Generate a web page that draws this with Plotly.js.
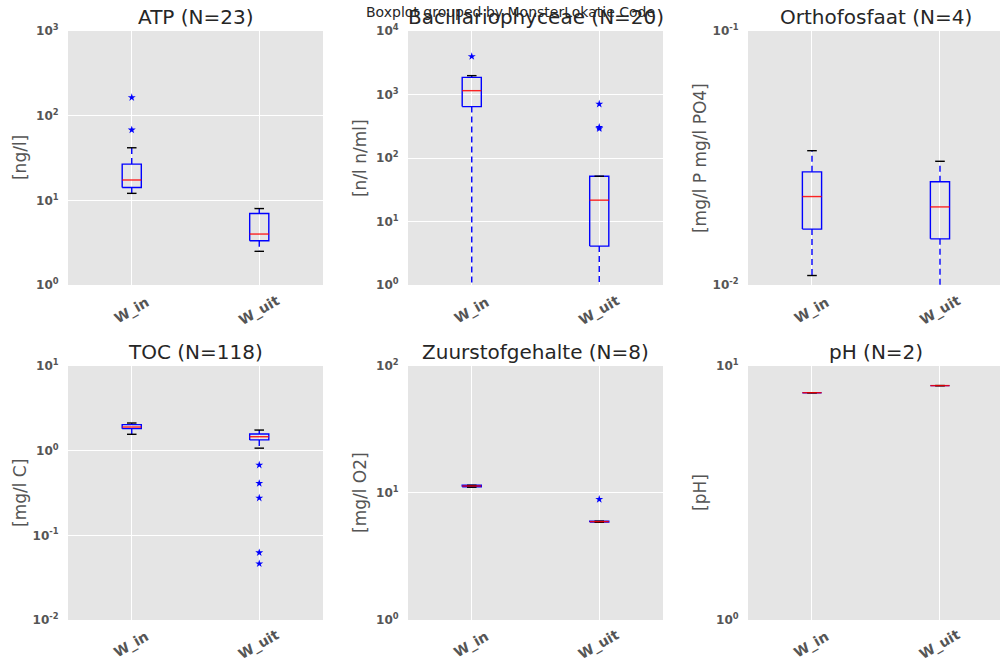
<!DOCTYPE html>
<html>
<head>
<meta charset="utf-8">
<script src="https://cdn.plot.ly/plotly-3.0.1.min.js"></script>
<style>html,body{margin:0;padding:0;background:#fff;} #chart{width:1000px;height:663px;}</style>
</head>
<body>
<div id="chart"></div>
<script>
// ---------- data ----------
const suptitle = 'Boxplot grouped by MonsterLokatie Code';
const panelTitles = ['ATP (N=23)', 'Bacillariophyceae (N=20)', 'Orthofosfaat (N=4)',
                     'TOC (N=118)', 'Zuurstofgehalte (N=8)', 'pH (N=2)'];
const unitLabels = ['[ng/l]', '[n/l n/ml]', '[mg/l P mg/l PO4]', '[mg/l C]', '[mg/l O2]', '[pH]'];
const categories = ['W_in', 'W_uit'];
// per panel: [W_in, W_uit]
const whiskerLow  = [[12.1, 2.5], [0.1, 0.5], [0.0109, 0.0095], [1.56, 1.07], [11.1, 5.88], [7.85, 8.37]];
const q1          = [[14.2, 3.33], [645, 4.1], [0.0166, 0.0152], [1.82, 1.34], [11.2, 5.9], [7.85, 8.37]];
const medians     = [[17.4, 4.0], [1150, 21.7], [0.0223, 0.0203], [1.90, 1.46], [11.35, 5.95], [7.85, 8.37]];
const q3          = [[26.8, 7.0], [1862, 51.7], [0.0279, 0.0255], [2.03, 1.57], [11.5, 6.0], [7.85, 8.37]];
const whiskerHigh = [[41.8, 8.0], [1983, 51.7], [0.0338, 0.0307], [2.12, 1.75], [11.5, 6.0], [7.85, 8.37]];
const outliers    = [[[164, 68], []], [[3980], [708, 305, 290]], [[], []],
                     [[], [0.677, 0.411, 0.276, 0.0624, 0.0462]], [[], [8.92]], [[], []]];
const decadeRange = [[0, 3], [0, 4], [-2, -1], [-2, 1], [0, 2], [0, 1]];

// ---------- layout geometry ----------
const colDomains = [[0.068, 0.323], [0.408, 0.663], [0.748, 1.0]];
const rowDomains = [[0.5701, 0.9532], [0.0649, 0.4480]];
const xRanges = [[0.5, 2.5], [0.5, 2.5], [0.5, 2.469]];
const boxHalf = 0.075, capHalf = 0.0375;

const traces = [];
const layout = {
  width: 1000, height: 663,
  margin: {l: 0, r: 0, t: 0, b: 0},
  paper_bgcolor: '#ffffff',
  plot_bgcolor: '#E5E5E5',
  showlegend: false,
  font: {family: 'DejaVu Sans', color: '#555555'},
  annotations: [{
    text: suptitle, xref: 'paper', yref: 'paper', x: 0.51, y: 1 - 12/663,
    xanchor: 'center', yanchor: 'middle', showarrow: false,
    font: {family: 'DejaVu Sans', size: 14, color: '#262626'}
  }]
};

function sup(n) { return '10<sup>' + n + '</sup>'; }

for (let p = 0; p < 6; p++) {
  const row = Math.floor(p / 3), col = p % 3;
  const sfx = p === 0 ? '' : String(p + 1);
  const xa = 'x' + sfx, ya = 'y' + sfx;
  const [d0, d1] = decadeRange[p];
  const tv = [], tt = [];
  for (let d = d0; d <= d1; d++) { tv.push(Math.pow(10, d)); tt.push(sup(d)); }

  layout['xaxis' + sfx] = {
    domain: colDomains[col], anchor: ya, range: xRanges[col],
    tickvals: [1, 2], ticktext: categories, showticklabels: false,
    showgrid: true, gridcolor: '#ffffff', gridwidth: 1, zeroline: false, showline: false,
    ticks: '', fixedrange: true
  };
  layout['yaxis' + sfx] = {
    domain: rowDomains[row], anchor: xa, type: 'log', range: [d0, d1],
    tickvals: tv, ticktext: tt,
    showgrid: true, gridcolor: '#ffffff', gridwidth: 1, zeroline: false, showline: false,
    ticks: 'outside', ticklen: 6, tickcolor: 'rgba(0,0,0,0)',
    tickfont: {family: 'DejaVu Sans', size: 12, color: '#555555', weight: 'bold'},
    fixedrange: true
  };

  const dx = colDomains[col], dy = rowDomains[row];
  layout.annotations.push({
    text: panelTitles[p], xref: 'paper', yref: 'paper',
    x: dx[0] + 0.1275, y: dy[1] + 14/663,
    xanchor: 'center', yanchor: 'middle', showarrow: false,
    font: {family: 'DejaVu Sans', size: 20, color: '#262626'}
  });
  layout.annotations.push({
    text: unitLabels[p], xref: 'paper', yref: 'paper',
    x: dx[0] - 48/1000, y: (dy[0] + dy[1]) / 2, textangle: -90,
    xanchor: 'center', yanchor: 'middle', showarrow: false,
    font: {family: 'DejaVu Sans', size: 17, color: '#555555'}
  });
  categories.forEach((cat, c) => {
    layout.annotations.push({
      text: cat, xref: xa, yref: 'paper', x: c + 1, y: dy[0] - 25/663,
      textangle: -30, xanchor: 'center', yanchor: 'middle', showarrow: false,
      font: {family: 'DejaVu Sans', size: 14, color: '#555555', weight: 'bold'}
    });
  });

  const bx = [], by = [], mx = [], my = [], wx = [], wy = [], cx = [], cy = [], ox = [], oy = [];
  for (let c = 0; c < 2; c++) {
    const pos = c + 1;
    bx.push(pos - boxHalf, pos + boxHalf, pos + boxHalf, pos - boxHalf, pos - boxHalf, null);
    by.push(q1[p][c], q1[p][c], q3[p][c], q3[p][c], q1[p][c], null);
    mx.push(pos - boxHalf, pos + boxHalf, null);
    my.push(medians[p][c], medians[p][c], null);
    wx.push(pos, pos, null, pos, pos, null);
    wy.push(q1[p][c], whiskerLow[p][c], null, q3[p][c], whiskerHigh[p][c], null);
    cx.push(pos - capHalf, pos + capHalf, null, pos - capHalf, pos + capHalf, null);
    cy.push(whiskerLow[p][c], whiskerLow[p][c], null, whiskerHigh[p][c], whiskerHigh[p][c], null);
    outliers[p][c].forEach(v => { ox.push(pos); oy.push(v); });
  }
  const common = {xaxis: xa, yaxis: ya, hoverinfo: 'skip', cliponaxis: true};
  traces.push(Object.assign({type: 'scatter', mode: 'lines', x: wx, y: wy,
    line: {color: '#0000FF', width: 1.4, dash: '6px,4px'}}, common));
  traces.push(Object.assign({type: 'scatter', mode: 'lines', x: bx, y: by,
    line: {color: '#0000FF', width: 1.4}}, common));
  traces.push(Object.assign({type: 'scatter', mode: 'lines', x: cx, y: cy,
    line: {color: '#000000', width: 1.4}}, common));
  traces.push(Object.assign({type: 'scatter', mode: 'lines', x: mx, y: my,
    line: {color: 'rgba(255,0,0,0.85)', width: 1.4}}, common));
  traces.push(Object.assign({type: 'scatter', mode: 'markers', x: ox, y: oy,
    marker: {symbol: 'star', size: 6, color: '#0000FF', line: {width: 0}}}, common));
}

Plotly.newPlot('chart', traces, layout, {displayModeBar: false, staticPlot: true});
</script>
</body>
</html>
